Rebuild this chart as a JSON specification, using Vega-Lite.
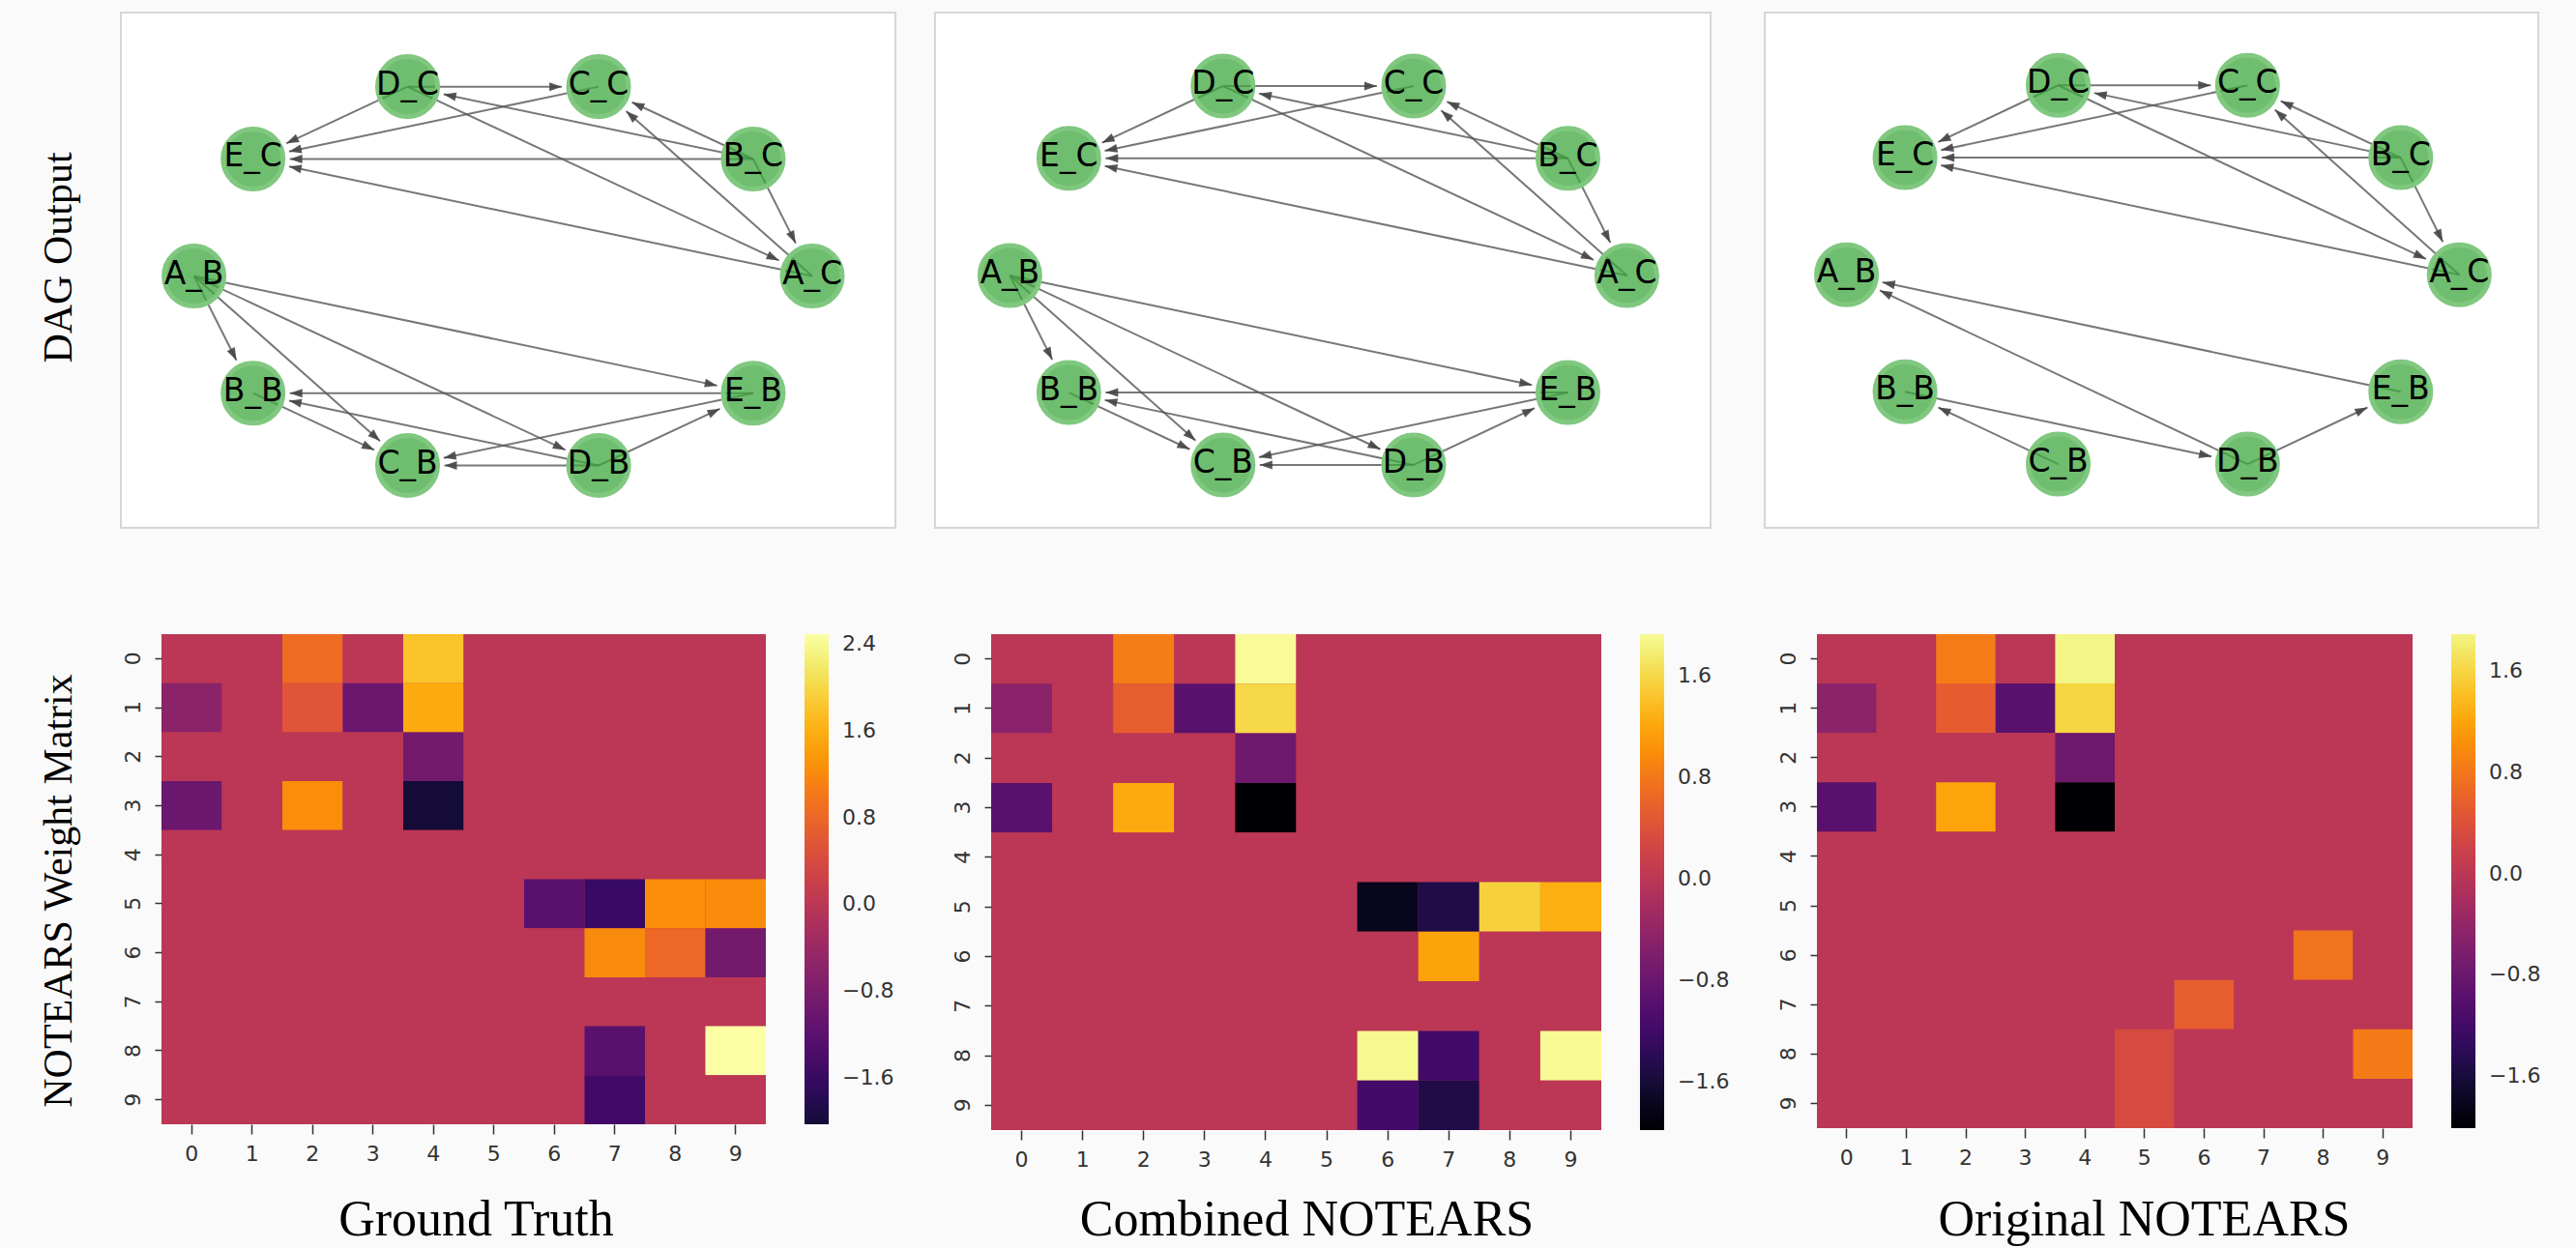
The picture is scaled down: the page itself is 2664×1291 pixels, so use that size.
{
"$schema": "https://vega.github.io/schema/vega-lite/v6.json",
"padding": {"left": 37, "top": 12, "right": 40, "bottom": 10},
"datasets": {
"nodes": [
{"n":"A_C","x":1,"y":0},{"n":"B_C","x":0.809017,"y":0.587785},{"n":"C_C","x":0.309017,"y":0.951057},{"n":"D_C","x":-0.309017,"y":0.951057},{"n":"E_C","x":-0.809017,"y":0.587785},
{"n":"A_B","x":-1,"y":0},{"n":"B_B","x":-0.809017,"y":-0.587785},{"n":"C_B","x":-0.309017,"y":-0.951057},{"n":"D_B","x":0.309017,"y":-0.951057},{"n":"E_B","x":0.809017,"y":-0.587785}
],
"edges": [
{"g":"gt","s":"D_C","t":"C_C"},{"g":"gt","s":"D_C","t":"E_C"},{"g":"gt","s":"C_C","t":"E_C"},{"g":"gt","s":"B_C","t":"D_C"},{"g":"gt","s":"B_C","t":"C_C"},{"g":"gt","s":"A_C","t":"C_C"},{"g":"gt","s":"B_C","t":"E_C"},{"g":"gt","s":"A_C","t":"E_C"},{"g":"gt","s":"D_C","t":"A_C"},{"g":"gt","s":"B_C","t":"A_C"},
{"g":"gt","s":"A_B","t":"B_B"},{"g":"gt","s":"A_B","t":"C_B"},{"g":"gt","s":"A_B","t":"D_B"},{"g":"gt","s":"A_B","t":"E_B"},{"g":"gt","s":"E_B","t":"B_B"},{"g":"gt","s":"D_B","t":"B_B"},{"g":"gt","s":"B_B","t":"C_B"},{"g":"gt","s":"E_B","t":"C_B"},{"g":"gt","s":"D_B","t":"C_B"},{"g":"gt","s":"D_B","t":"E_B"},
{"g":"comb","s":"D_C","t":"C_C"},{"g":"comb","s":"D_C","t":"E_C"},{"g":"comb","s":"C_C","t":"E_C"},{"g":"comb","s":"B_C","t":"D_C"},{"g":"comb","s":"B_C","t":"C_C"},{"g":"comb","s":"A_C","t":"C_C"},{"g":"comb","s":"B_C","t":"E_C"},{"g":"comb","s":"A_C","t":"E_C"},{"g":"comb","s":"D_C","t":"A_C"},{"g":"comb","s":"B_C","t":"A_C"},
{"g":"comb","s":"A_B","t":"B_B"},{"g":"comb","s":"A_B","t":"C_B"},{"g":"comb","s":"A_B","t":"D_B"},{"g":"comb","s":"A_B","t":"E_B"},{"g":"comb","s":"E_B","t":"B_B"},{"g":"comb","s":"D_B","t":"B_B"},{"g":"comb","s":"B_B","t":"C_B"},{"g":"comb","s":"E_B","t":"C_B"},{"g":"comb","s":"D_B","t":"C_B"},{"g":"comb","s":"D_B","t":"E_B"},
{"g":"orig","s":"D_C","t":"C_C"},{"g":"orig","s":"D_C","t":"E_C"},{"g":"orig","s":"C_C","t":"E_C"},{"g":"orig","s":"B_C","t":"D_C"},{"g":"orig","s":"B_C","t":"C_C"},{"g":"orig","s":"A_C","t":"C_C"},{"g":"orig","s":"B_C","t":"E_C"},{"g":"orig","s":"A_C","t":"E_C"},{"g":"orig","s":"D_C","t":"A_C"},{"g":"orig","s":"B_C","t":"A_C"},
{"g":"orig","s":"D_B","t":"A_B"},{"g":"orig","s":"E_B","t":"A_B"},{"g":"orig","s":"C_B","t":"B_B"},{"g":"orig","s":"B_B","t":"D_B"},{"g":"orig","s":"D_B","t":"E_B"}
],
"gt": [
{"r":0,"c":0,"v":0},{"r":0,"c":1,"v":0},{"r":0,"c":2,"v":0.87},{"r":0,"c":3,"v":0},{"r":0,"c":4,"v":1.8},{"r":0,"c":5,"v":0},{"r":0,"c":6,"v":0},{"r":0,"c":7,"v":0},{"r":0,"c":8,"v":0},{"r":0,"c":9,"v":0},
{"r":1,"c":0,"v":-0.6},{"r":1,"c":1,"v":0},{"r":1,"c":2,"v":0.55},{"r":1,"c":3,"v":-1.0},{"r":1,"c":4,"v":1.55},{"r":1,"c":5,"v":0},{"r":1,"c":6,"v":0},{"r":1,"c":7,"v":0},{"r":1,"c":8,"v":0},{"r":1,"c":9,"v":0},
{"r":2,"c":0,"v":0},{"r":2,"c":1,"v":0},{"r":2,"c":2,"v":0},{"r":2,"c":3,"v":0},{"r":2,"c":4,"v":-0.9},{"r":2,"c":5,"v":0},{"r":2,"c":6,"v":0},{"r":2,"c":7,"v":0},{"r":2,"c":8,"v":0},{"r":2,"c":9,"v":0},
{"r":3,"c":0,"v":-1.0},{"r":3,"c":1,"v":0},{"r":3,"c":2,"v":1.25},{"r":3,"c":3,"v":0},{"r":3,"c":4,"v":-2.03},{"r":3,"c":5,"v":0},{"r":3,"c":6,"v":0},{"r":3,"c":7,"v":0},{"r":3,"c":8,"v":0},{"r":3,"c":9,"v":0},
{"r":4,"c":0,"v":0},{"r":4,"c":1,"v":0},{"r":4,"c":2,"v":0},{"r":4,"c":3,"v":0},{"r":4,"c":4,"v":0},{"r":4,"c":5,"v":0},{"r":4,"c":6,"v":0},{"r":4,"c":7,"v":0},{"r":4,"c":8,"v":0},{"r":4,"c":9,"v":0},
{"r":5,"c":0,"v":0},{"r":5,"c":1,"v":0},{"r":5,"c":2,"v":0},{"r":5,"c":3,"v":0},{"r":5,"c":4,"v":0},{"r":5,"c":5,"v":0},{"r":5,"c":6,"v":-1.2},{"r":5,"c":7,"v":-1.59},{"r":5,"c":8,"v":1.25},{"r":5,"c":9,"v":1.24},
{"r":6,"c":0,"v":0},{"r":6,"c":1,"v":0},{"r":6,"c":2,"v":0},{"r":6,"c":3,"v":0},{"r":6,"c":4,"v":0},{"r":6,"c":5,"v":0},{"r":6,"c":6,"v":0},{"r":6,"c":7,"v":1.22},{"r":6,"c":8,"v":0.82},{"r":6,"c":9,"v":-0.9},
{"r":7,"c":0,"v":0},{"r":7,"c":1,"v":0},{"r":7,"c":2,"v":0},{"r":7,"c":3,"v":0},{"r":7,"c":4,"v":0},{"r":7,"c":5,"v":0},{"r":7,"c":6,"v":0},{"r":7,"c":7,"v":0},{"r":7,"c":8,"v":0},{"r":7,"c":9,"v":0},
{"r":8,"c":0,"v":0},{"r":8,"c":1,"v":0},{"r":8,"c":2,"v":0},{"r":8,"c":3,"v":0},{"r":8,"c":4,"v":0},{"r":8,"c":5,"v":0},{"r":8,"c":6,"v":0},{"r":8,"c":7,"v":-1.2},{"r":8,"c":8,"v":0},{"r":8,"c":9,"v":2.49},
{"r":9,"c":0,"v":0},{"r":9,"c":1,"v":0},{"r":9,"c":2,"v":0},{"r":9,"c":3,"v":0},{"r":9,"c":4,"v":0},{"r":9,"c":5,"v":0},{"r":9,"c":6,"v":0},{"r":9,"c":7,"v":-1.49},{"r":9,"c":8,"v":0},{"r":9,"c":9,"v":0}
],
"comb": [
{"r":0,"c":0,"v":0},{"r":0,"c":1,"v":0},{"r":0,"c":2,"v":0.85},{"r":0,"c":3,"v":0},{"r":0,"c":4,"v":1.93},{"r":0,"c":5,"v":0},{"r":0,"c":6,"v":0},{"r":0,"c":7,"v":0},{"r":0,"c":8,"v":0},{"r":0,"c":9,"v":0},
{"r":1,"c":0,"v":-0.48},{"r":1,"c":1,"v":0},{"r":1,"c":2,"v":0.55},{"r":1,"c":3,"v":-0.95},{"r":1,"c":4,"v":1.6},{"r":1,"c":5,"v":0},{"r":1,"c":6,"v":0},{"r":1,"c":7,"v":0},{"r":1,"c":8,"v":0},{"r":1,"c":9,"v":0},
{"r":2,"c":0,"v":0},{"r":2,"c":1,"v":0},{"r":2,"c":2,"v":0},{"r":2,"c":3,"v":0},{"r":2,"c":4,"v":-0.75},{"r":2,"c":5,"v":0},{"r":2,"c":6,"v":0},{"r":2,"c":7,"v":0},{"r":2,"c":8,"v":0},{"r":2,"c":9,"v":0},
{"r":3,"c":0,"v":-0.96},{"r":3,"c":1,"v":0},{"r":3,"c":2,"v":1.23},{"r":3,"c":3,"v":0},{"r":3,"c":4,"v":-1.98},{"r":3,"c":5,"v":0},{"r":3,"c":6,"v":0},{"r":3,"c":7,"v":0},{"r":3,"c":8,"v":0},{"r":3,"c":9,"v":0},
{"r":4,"c":0,"v":0},{"r":4,"c":1,"v":0},{"r":4,"c":2,"v":0},{"r":4,"c":3,"v":0},{"r":4,"c":4,"v":0},{"r":4,"c":5,"v":0},{"r":4,"c":6,"v":0},{"r":4,"c":7,"v":0},{"r":4,"c":8,"v":0},{"r":4,"c":9,"v":0},
{"r":5,"c":0,"v":0},{"r":5,"c":1,"v":0},{"r":5,"c":2,"v":0},{"r":5,"c":3,"v":0},{"r":5,"c":4,"v":0},{"r":5,"c":5,"v":0},{"r":5,"c":6,"v":-1.78},{"r":5,"c":7,"v":-1.5},{"r":5,"c":8,"v":1.54},{"r":5,"c":9,"v":1.27},
{"r":6,"c":0,"v":0},{"r":6,"c":1,"v":0},{"r":6,"c":2,"v":0},{"r":6,"c":3,"v":0},{"r":6,"c":4,"v":0},{"r":6,"c":5,"v":0},{"r":6,"c":6,"v":0},{"r":6,"c":7,"v":1.17},{"r":6,"c":8,"v":0},{"r":6,"c":9,"v":0},
{"r":7,"c":0,"v":0},{"r":7,"c":1,"v":0},{"r":7,"c":2,"v":0},{"r":7,"c":3,"v":0},{"r":7,"c":4,"v":0},{"r":7,"c":5,"v":0},{"r":7,"c":6,"v":0},{"r":7,"c":7,"v":0},{"r":7,"c":8,"v":0},{"r":7,"c":9,"v":0},
{"r":8,"c":0,"v":0},{"r":8,"c":1,"v":0},{"r":8,"c":2,"v":0},{"r":8,"c":3,"v":0},{"r":8,"c":4,"v":0},{"r":8,"c":5,"v":0},{"r":8,"c":6,"v":1.9},{"r":8,"c":7,"v":-1.19},{"r":8,"c":8,"v":0},{"r":8,"c":9,"v":1.92},
{"r":9,"c":0,"v":0},{"r":9,"c":1,"v":0},{"r":9,"c":2,"v":0},{"r":9,"c":3,"v":0},{"r":9,"c":4,"v":0},{"r":9,"c":5,"v":0},{"r":9,"c":6,"v":-1.17},{"r":9,"c":7,"v":-1.5},{"r":9,"c":8,"v":0},{"r":9,"c":9,"v":0}
],
"orig": [
{"r":0,"c":0,"v":0},{"r":0,"c":1,"v":0},{"r":0,"c":2,"v":0.85},{"r":0,"c":3,"v":0},{"r":0,"c":4,"v":1.89},{"r":0,"c":5,"v":0},{"r":0,"c":6,"v":0},{"r":0,"c":7,"v":0},{"r":0,"c":8,"v":0},{"r":0,"c":9,"v":0},
{"r":1,"c":0,"v":-0.48},{"r":1,"c":1,"v":0},{"r":1,"c":2,"v":0.53},{"r":1,"c":3,"v":-0.97},{"r":1,"c":4,"v":1.6},{"r":1,"c":5,"v":0},{"r":1,"c":6,"v":0},{"r":1,"c":7,"v":0},{"r":1,"c":8,"v":0},{"r":1,"c":9,"v":0},
{"r":2,"c":0,"v":0},{"r":2,"c":1,"v":0},{"r":2,"c":2,"v":0},{"r":2,"c":3,"v":0},{"r":2,"c":4,"v":-0.76},{"r":2,"c":5,"v":0},{"r":2,"c":6,"v":0},{"r":2,"c":7,"v":0},{"r":2,"c":8,"v":0},{"r":2,"c":9,"v":0},
{"r":3,"c":0,"v":-0.97},{"r":3,"c":1,"v":0},{"r":3,"c":2,"v":1.2},{"r":3,"c":3,"v":0},{"r":3,"c":4,"v":-2.01},{"r":3,"c":5,"v":0},{"r":3,"c":6,"v":0},{"r":3,"c":7,"v":0},{"r":3,"c":8,"v":0},{"r":3,"c":9,"v":0},
{"r":4,"c":0,"v":0},{"r":4,"c":1,"v":0},{"r":4,"c":2,"v":0},{"r":4,"c":3,"v":0},{"r":4,"c":4,"v":0},{"r":4,"c":5,"v":0},{"r":4,"c":6,"v":0},{"r":4,"c":7,"v":0},{"r":4,"c":8,"v":0},{"r":4,"c":9,"v":0},
{"r":5,"c":0,"v":0},{"r":5,"c":1,"v":0},{"r":5,"c":2,"v":0},{"r":5,"c":3,"v":0},{"r":5,"c":4,"v":0},{"r":5,"c":5,"v":0},{"r":5,"c":6,"v":0},{"r":5,"c":7,"v":0},{"r":5,"c":8,"v":0},{"r":5,"c":9,"v":0},
{"r":6,"c":0,"v":0},{"r":6,"c":1,"v":0},{"r":6,"c":2,"v":0},{"r":6,"c":3,"v":0},{"r":6,"c":4,"v":0},{"r":6,"c":5,"v":0},{"r":6,"c":6,"v":0},{"r":6,"c":7,"v":0},{"r":6,"c":8,"v":0.77},{"r":6,"c":9,"v":0},
{"r":7,"c":0,"v":0},{"r":7,"c":1,"v":0},{"r":7,"c":2,"v":0},{"r":7,"c":3,"v":0},{"r":7,"c":4,"v":0},{"r":7,"c":5,"v":0},{"r":7,"c":6,"v":0.56},{"r":7,"c":7,"v":0},{"r":7,"c":8,"v":0},{"r":7,"c":9,"v":0},
{"r":8,"c":0,"v":0},{"r":8,"c":1,"v":0},{"r":8,"c":2,"v":0},{"r":8,"c":3,"v":0},{"r":8,"c":4,"v":0},{"r":8,"c":5,"v":0.32},{"r":8,"c":6,"v":0},{"r":8,"c":7,"v":0},{"r":8,"c":8,"v":0},{"r":8,"c":9,"v":0.84},
{"r":9,"c":0,"v":0},{"r":9,"c":1,"v":0},{"r":9,"c":2,"v":0},{"r":9,"c":3,"v":0},{"r":9,"c":4,"v":0},{"r":9,"c":5,"v":0.32},{"r":9,"c":6,"v":0},{"r":9,"c":7,"v":0},{"r":9,"c":8,"v":0},{"r":9,"c":9,"v":0}
]
},
"concat": [
{
"hconcat": [
{"width": 1, "height": 1, "view": {"fill": "#fafafa", "stroke": null}, "data": {"values": []}, "mark": "point"},
{
"hconcat": [
{
"hconcat": [
{
"width": 801, "height": 533,
"view": {"fill": "white", "stroke": "#d6d6d6", "strokeWidth": 2},
"layer": [
{"data": {"name": "edges"},
"transform": [
{"filter": "datum.g === 'gt'"},
{"lookup": "s", "from": {"data": {"name": "nodes"}, "key": "n", "fields": ["x", "y"]}, "as": ["sx", "sy"]},
{"lookup": "t", "from": {"data": {"name": "nodes"}, "key": "n", "fields": ["x", "y"]}, "as": ["tx", "ty"]},
{"calculate": "atan2((datum.sy - datum.ty) * 206, (datum.tx - datum.sx) * 319)", "as": "a"},
{"calculate": "datum.tx - 38 / 319 * cos(datum.a)", "as": "ex"},
{"calculate": "datum.ty + 38 / 206 * sin(datum.a)", "as": "ey"},
{"calculate": "datum.a * 180 / PI", "as": "ang"}
],
"layer": [
{"mark": {"type": "rule", "color": "#555555", "strokeWidth": 2, "opacity": 0.8},
"encoding": {
"x": {"field": "sx", "type": "quantitative", "scale": {"domain": [-1.2365, 1.269], "nice": false, "zero": false}, "axis": null},
"y": {"field": "sy", "type": "quantitative", "scale": {"domain": [-1.264, 1.323], "nice": false, "zero": false}, "axis": {"title": "DAG Output", "labels": false, "ticks": false, "domain": false, "grid": false, "titleFont": "Liberation Serif", "titleFontSize": 42, "titleFontWeight": "normal", "titleColor": "#000000", "titleAngle": 270, "titleBaseline": "alphabetic", "titleAlign": "center", "titleX": -52, "titleY": 253}},
"x2": {"field": "ex"}, "y2": {"field": "ey"}}},
{"mark": {"type": "point", "shape": "M -0.76 0 L -1.02 -0.09 L -1.02 0.09 Z", "size": 10000, "filled": true, "color": "#444444", "opacity": 0.9, "strokeWidth": 0},
"encoding": {
"x": {"field": "tx", "type": "quantitative", "scale": {"domain": [-1.2365, 1.269], "nice": false, "zero": false}, "axis": null},
"y": {"field": "ty", "type": "quantitative", "scale": {"domain": [-1.264, 1.323], "nice": false, "zero": false}, "axis": {"title": "DAG Output", "labels": false, "ticks": false, "domain": false, "grid": false, "titleFont": "Liberation Serif", "titleFontSize": 42, "titleFontWeight": "normal", "titleColor": "#000000", "titleAngle": 270, "titleBaseline": "alphabetic", "titleAlign": "center", "titleX": -52, "titleY": 253}},
"angle": {"field": "ang", "type": "quantitative", "scale": null}}}
]},
{"data": {"name": "nodes"},
"layer": [
{"mark": {"type": "circle", "size": 3848, "fill": "#3fa83f", "fillOpacity": 0.75, "stroke": "#80c880", "strokeWidth": 5, "opacity": 1},
"encoding": {
"x": {"field": "x", "type": "quantitative", "scale": {"domain": [-1.2365, 1.269], "nice": false, "zero": false}, "axis": null},
"y": {"field": "y", "type": "quantitative", "scale": {"domain": [-1.264, 1.323], "nice": false, "zero": false}, "axis": {"title": "DAG Output", "labels": false, "ticks": false, "domain": false, "grid": false, "titleFont": "Liberation Serif", "titleFontSize": 42, "titleFontWeight": "normal", "titleColor": "#000000", "titleAngle": 270, "titleBaseline": "alphabetic", "titleAlign": "center", "titleX": -52, "titleY": 253}}}},
{"mark": {"type": "text", "font": "DejaVu Sans", "fontSize": 33, "color": "#000000", "baseline": "middle", "align": "center", "dy": -2},
"encoding": {
"x": {"field": "x", "type": "quantitative", "scale": {"domain": [-1.2365, 1.269], "nice": false, "zero": false}, "axis": null},
"y": {"field": "y", "type": "quantitative", "scale": {"domain": [-1.264, 1.323], "nice": false, "zero": false}, "axis": {"title": "DAG Output", "labels": false, "ticks": false, "domain": false, "grid": false, "titleFont": "Liberation Serif", "titleFontSize": 42, "titleFontWeight": "normal", "titleColor": "#000000", "titleAngle": 270, "titleBaseline": "alphabetic", "titleAlign": "center", "titleX": -52, "titleY": 253}},
"text": {"field": "n"}}}
]}
]
},
{
"width": 802, "height": 533,
"view": {"fill": "white", "stroke": "#d6d6d6", "strokeWidth": 2},
"layer": [
{"data": {"name": "edges"},
"transform": [
{"filter": "datum.g === 'comb'"},
{"lookup": "s", "from": {"data": {"name": "nodes"}, "key": "n", "fields": ["x", "y"]}, "as": ["sx", "sy"]},
{"lookup": "t", "from": {"data": {"name": "nodes"}, "key": "n", "fields": ["x", "y"]}, "as": ["tx", "ty"]},
{"calculate": "atan2((datum.sy - datum.ty) * 206, (datum.tx - datum.sx) * 319)", "as": "a"},
{"calculate": "datum.tx - 38 / 319 * cos(datum.a)", "as": "ex"},
{"calculate": "datum.ty + 38 / 206 * sin(datum.a)", "as": "ey"},
{"calculate": "datum.a * 180 / PI", "as": "ang"}
],
"layer": [
{"mark": {"type": "rule", "color": "#555555", "strokeWidth": 2, "opacity": 0.8},
"encoding": {
"x": {"field": "sx", "type": "quantitative", "scale": {"domain": [-1.2426, 1.2715], "nice": false, "zero": false}, "axis": null},
"y": {"field": "sy", "type": "quantitative", "scale": {"domain": [-1.267, 1.32], "nice": false, "zero": false}, "axis": null},
"x2": {"field": "ex"}, "y2": {"field": "ey"}}},
{"mark": {"type": "point", "shape": "M -0.76 0 L -1.02 -0.09 L -1.02 0.09 Z", "size": 10000, "filled": true, "color": "#444444", "opacity": 0.9, "strokeWidth": 0},
"encoding": {
"x": {"field": "tx", "type": "quantitative", "scale": {"domain": [-1.2426, 1.2715], "nice": false, "zero": false}, "axis": null},
"y": {"field": "ty", "type": "quantitative", "scale": {"domain": [-1.267, 1.32], "nice": false, "zero": false}, "axis": null},
"angle": {"field": "ang", "type": "quantitative", "scale": null}}}
]},
{"data": {"name": "nodes"},
"layer": [
{"mark": {"type": "circle", "size": 3848, "fill": "#3fa83f", "fillOpacity": 0.75, "stroke": "#80c880", "strokeWidth": 5, "opacity": 1},
"encoding": {
"x": {"field": "x", "type": "quantitative", "scale": {"domain": [-1.2426, 1.2715], "nice": false, "zero": false}, "axis": null},
"y": {"field": "y", "type": "quantitative", "scale": {"domain": [-1.267, 1.32], "nice": false, "zero": false}, "axis": null}}},
{"mark": {"type": "text", "font": "DejaVu Sans", "fontSize": 33, "color": "#000000", "baseline": "middle", "align": "center", "dy": -2},
"encoding": {
"x": {"field": "x", "type": "quantitative", "scale": {"domain": [-1.2426, 1.2715], "nice": false, "zero": false}, "axis": null},
"y": {"field": "y", "type": "quantitative", "scale": {"domain": [-1.267, 1.32], "nice": false, "zero": false}, "axis": null},
"text": {"field": "n"}}}
]}
]
}
],
"spacing": 39,
"resolve": {"scale": {"x": "independent", "y": "independent"}}
},
{
"width": 800, "height": 533,
"view": {"fill": "white", "stroke": "#d6d6d6", "strokeWidth": 2},
"layer": [
{"data": {"name": "edges"},
"transform": [
{"filter": "datum.g === 'orig'"},
{"lookup": "s", "from": {"data": {"name": "nodes"}, "key": "n", "fields": ["x", "y"]}, "as": ["sx", "sy"]},
{"lookup": "t", "from": {"data": {"name": "nodes"}, "key": "n", "fields": ["x", "y"]}, "as": ["tx", "ty"]},
{"calculate": "atan2((datum.sy - datum.ty) * 206, (datum.tx - datum.sx) * 317)", "as": "a"},
{"calculate": "datum.tx - 38 / 317 * cos(datum.a)", "as": "ex"},
{"calculate": "datum.ty + 38 / 206 * sin(datum.a)", "as": "ey"},
{"calculate": "datum.a * 180 / PI", "as": "ang"}
],
"layer": [
{"mark": {"type": "rule", "color": "#555555", "strokeWidth": 2, "opacity": 0.8},
"encoding": {
"x": {"field": "sx", "type": "quantitative", "scale": {"domain": [-1.267, 1.258], "nice": false, "zero": false}, "axis": null},
"y": {"field": "sy", "type": "quantitative", "scale": {"domain": [-1.271, 1.3165], "nice": false, "zero": false}, "axis": null},
"x2": {"field": "ex"}, "y2": {"field": "ey"}}},
{"mark": {"type": "point", "shape": "M -0.76 0 L -1.02 -0.09 L -1.02 0.09 Z", "size": 10000, "filled": true, "color": "#444444", "opacity": 0.9, "strokeWidth": 0},
"encoding": {
"x": {"field": "tx", "type": "quantitative", "scale": {"domain": [-1.267, 1.258], "nice": false, "zero": false}, "axis": null},
"y": {"field": "ty", "type": "quantitative", "scale": {"domain": [-1.271, 1.3165], "nice": false, "zero": false}, "axis": null},
"angle": {"field": "ang", "type": "quantitative", "scale": null}}}
]},
{"data": {"name": "nodes"},
"layer": [
{"mark": {"type": "circle", "size": 3848, "fill": "#3fa83f", "fillOpacity": 0.75, "stroke": "#80c880", "strokeWidth": 5, "opacity": 1},
"encoding": {
"x": {"field": "x", "type": "quantitative", "scale": {"domain": [-1.267, 1.258], "nice": false, "zero": false}, "axis": null},
"y": {"field": "y", "type": "quantitative", "scale": {"domain": [-1.271, 1.3165], "nice": false, "zero": false}, "axis": null}}},
{"mark": {"type": "text", "font": "DejaVu Sans", "fontSize": 33, "color": "#000000", "baseline": "middle", "align": "center", "dy": -2},
"encoding": {
"x": {"field": "x", "type": "quantitative", "scale": {"domain": [-1.267, 1.258], "nice": false, "zero": false}, "axis": null},
"y": {"field": "y", "type": "quantitative", "scale": {"domain": [-1.271, 1.3165], "nice": false, "zero": false}, "axis": null},
"text": {"field": "n"}}}
]}
]
}
],
"spacing": 54,
"resolve": {"scale": {"x": "independent", "y": "independent"}}
}
],
"spacing": 0,
"resolve": {"scale": {"x": "independent", "y": "independent"}}
},
{
"hconcat": [
{"width": 1, "height": 1, "view": {"fill": "#fafafa", "stroke": null}, "data": {"values": []}, "mark": "point"},
{
"hconcat": [
{
"hconcat": [
{
"width": 625, "height": 507,
"view": {"fill": "#bc3754", "stroke": null},
"data": {"name": "gt"},
"mark": {"type": "rect"},
"encoding": {
"x": {"field": "c", "type": "ordinal", "axis": {"title": "Ground Truth", "titleFont": "Liberation Serif", "titleFontSize": 52, "titleFontWeight": "normal", "titleColor": "#000000", "titleX": 325, "titleY": 114, "titleBaseline": "alphabetic", "titleAlign": "center", "labelAngle": 0, "labelFont": "DejaVu Sans", "labelFontSize": 22, "labelColor": "#333333", "labelPadding": 10, "tickSize": 10, "tickColor": "#333333", "tickWidth": 1.5, "domain": false, "grid": false}},
"y": {"field": "r", "type": "ordinal", "axis": {"title": "NOTEARS Weight Matrix", "titleFont": "Liberation Serif", "titleFontSize": 42, "titleFontWeight": "normal", "titleColor": "#000000", "titleAngle": 270, "titleBaseline": "alphabetic", "titleAlign": "center", "titleX": -94, "titleY": 265, "labelAngle": 270, "labelAlign": "center", "labelBaseline": "middle", "labelFont": "DejaVu Sans", "labelFontSize": 22, "labelColor": "#333333", "labelPadding": 23, "tickSize": 7, "tickColor": "#333333", "tickWidth": 1.5, "domain": false, "grid": false}},
"color": {"field": "v", "type": "quantitative", "scale": {"domain": [-2.03, 2.49], "scheme": {"name": "inferno", "extent": [0.0924, 1]}, "nice": false, "zero": false},
"legend": {"title": null, "values": [-1.6, -0.8, 0, 0.8, 1.6, 2.4], "format": ".1f", "gradientLength": 507, "gradientThickness": 25, "offset": 40, "padding": 0, "labelOffset": 14, "labelFont": "DejaVu Sans", "labelFontSize": 22, "labelColor": "#333333", "labelOverlap": false, "direction": "vertical"}}
}
},
{
"width": 631, "height": 513,
"view": {"fill": "#bc3754", "stroke": null},
"data": {"name": "comb"},
"mark": {"type": "rect"},
"encoding": {
"x": {"field": "c", "type": "ordinal", "axis": {"title": "Combined NOTEARS", "titleFont": "Liberation Serif", "titleFontSize": 52, "titleFontWeight": "normal", "titleColor": "#000000", "titleX": 326, "titleY": 108, "titleBaseline": "alphabetic", "titleAlign": "center", "labelAngle": 0, "labelFont": "DejaVu Sans", "labelFontSize": 22, "labelColor": "#333333", "labelPadding": 10, "tickSize": 10, "tickColor": "#333333", "tickWidth": 1.5, "domain": false, "grid": false}},
"y": {"field": "r", "type": "ordinal", "axis": {"title": null, "labelAngle": 270, "labelAlign": "center", "labelBaseline": "middle", "labelFont": "DejaVu Sans", "labelFontSize": 22, "labelColor": "#333333", "labelPadding": 23, "tickSize": 7, "tickColor": "#333333", "tickWidth": 1.5, "domain": false, "grid": false}},
"color": {"field": "v", "type": "quantitative", "scale": {"domain": [-1.98, 1.93], "scheme": {"name": "inferno", "extent": [0, 0.987]}, "nice": false, "zero": false},
"legend": {"title": null, "values": [-1.6, -0.8, 0, 0.8, 1.6], "format": ".1f", "gradientLength": 513, "gradientThickness": 25, "offset": 40, "padding": 0, "labelOffset": 14, "labelFont": "DejaVu Sans", "labelFontSize": 22, "labelColor": "#333333", "labelOverlap": false, "direction": "vertical"}}
}
}
],
"spacing": 58,
"resolve": {"scale": {"x": "independent", "y": "independent", "color": "independent"}, "legend": {"color": "independent"}}
},
{
"width": 616, "height": 511,
"view": {"fill": "#bc3754", "stroke": null},
"data": {"name": "orig"},
"mark": {"type": "rect"},
"encoding": {
"x": {"field": "c", "type": "ordinal", "axis": {"title": "Original NOTEARS", "titleFont": "Liberation Serif", "titleFontSize": 52, "titleFontWeight": "normal", "titleColor": "#000000", "titleX": 338, "titleY": 110, "titleBaseline": "alphabetic", "titleAlign": "center", "labelAngle": 0, "labelFont": "DejaVu Sans", "labelFontSize": 22, "labelColor": "#333333", "labelPadding": 10, "tickSize": 10, "tickColor": "#333333", "tickWidth": 1.5, "domain": false, "grid": false}},
"y": {"field": "r", "type": "ordinal", "axis": {"title": null, "labelAngle": 270, "labelAlign": "center", "labelBaseline": "middle", "labelFont": "DejaVu Sans", "labelFontSize": 22, "labelColor": "#333333", "labelPadding": 23, "tickSize": 7, "tickColor": "#333333", "tickWidth": 1.5, "domain": false, "grid": false}},
"color": {"field": "v", "type": "quantitative", "scale": {"domain": [-2.01, 1.89], "scheme": {"name": "inferno", "extent": [0, 0.97]}, "nice": false, "zero": false},
"legend": {"title": null, "values": [-1.6, -0.8, 0, 0.8, 1.6], "format": ".1f", "gradientLength": 511, "gradientThickness": 25, "offset": 40, "padding": 0, "labelOffset": 14, "labelFont": "DejaVu Sans", "labelFontSize": 22, "labelColor": "#333333", "labelOverlap": false, "direction": "vertical"}}
}
}
],
"spacing": 48,
"resolve": {"scale": {"x": "independent", "y": "independent", "color": "independent"}, "legend": {"color": "independent"}}
}
],
"spacing": 0,
"resolve": {"scale": {"x": "independent", "y": "independent", "color": "independent"}, "legend": {"color": "independent"}}
}
],
"columns": 1,
"spacing": 109,
"resolve": {"scale": {"x": "independent", "y": "independent", "color": "independent"}},
"config": {
"background": "#fafafa",
"font": "DejaVu Sans",
"axis": {"grid": false},
"legend": {"gradientVerticalMaxLength": 1000, "gradientVerticalMinLength": 10}
}
}
